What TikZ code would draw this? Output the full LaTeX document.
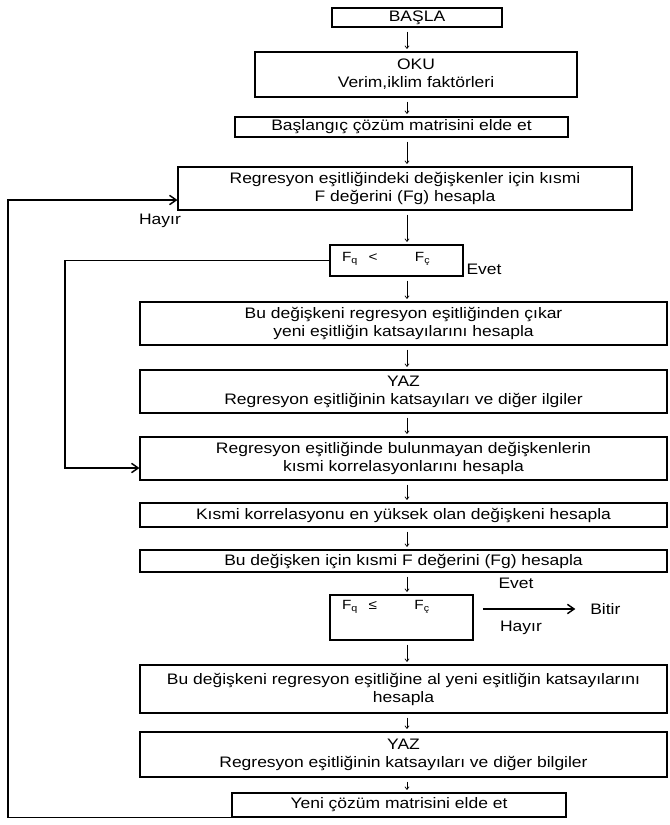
\documentclass[tikz,border=0pt]{standalone}
\usepackage{fontspec}
\newfontfamily\diafont[FakeStretch=1.15]{Liberation Sans}
\usetikzlibrary{arrows.meta}
\tikzset{%
	block/.style    = {draw, rectangle, line width=0.8pt, inner sep=0pt, align=center},
	cond/.style     = {draw, rectangle, line width=0.8pt, inner xsep=9pt, inner ysep=0pt, align=left, font=\diafont\fontsize{10}{12}\selectfont},
	lbl/.style      = {inner sep=0pt},
	arrow/.style    = {line width=0.5pt, -{To[length=2.5pt,width=3.5pt]}, shorten <=3pt, shorten >=2pt},
	backline/.style = {line width=1.1pt, -{Straight Barb[length=5pt,width=7pt]}},
}

\begin{document}
\begin{tikzpicture}[x=0.75pt,y=-0.75pt,font=\diafont\fontsize{11.4}{13.5}\selectfont]
	\useasboundingbox (0,0) rectangle (669,825);
	\coordinate (axis) at (407,0);

	\node [block, minimum width=127.5pt, minimum height=14.25pt] (basla) at (417,17.5) {BAŞLA};
	\node [block, minimum width=241.5pt, minimum height=33.75pt] (oku) at (416,74.5) {OKU\\Verim,iklim faktörleri};
	\node [block, minimum width=249.75pt, minimum height=15pt] (matris) at (401.5,127) {Başlangıç çözüm matrisini elde et};
	\node [block, minimum width=340.5pt, minimum height=32.25pt] (kismif) at (405,188.5) {Regresyon eşitliğindeki değişkenler için kısmi\\F değerini (Fg) hesapla};
	\node [cond, text width=81.75pt, minimum width=99.75pt, text height=12pt, text depth=11.25pt] (test1) at (396.5,260.5) {F\textsubscript{q}\hspace{8pt}<\hspace{28pt}F\textsubscript{ç}};
	\node [block, minimum width=395.25pt, minimum height=32.25pt] (cikar) at (403.5,323.5) {Bu değişkeni regresyon eşitliğinden çıkar\\yeni eşitliğin katsayılarını hesapla};
	\node [block, minimum width=395.25pt, minimum height=32.25pt] (yaz1) at (403.5,391.5) {YAZ\\Regresyon eşitliğinin katsayıları ve diğer ilgiler};
	\node [block, minimum width=395.25pt, minimum height=32.25pt] (korel) at (403.5,458.5) {Regresyon eşitliğinde bulunmayan değişkenlerin\\kısmi korrelasyonlarını hesapla};
	\node [block, minimum width=395.25pt, minimum height=18pt] (yuksek) at (403.5,515) {Kısmi korrelasyonu en yüksek olan değişkeni hesapla};
	\node [block, minimum width=395.25pt, minimum height=16.5pt] (fhesap) at (403.5,561) {Bu değişken için kısmi F değerini (Fg) hesapla};
	\node [cond, text width=89.25pt, minimum width=107.25pt, text height=11pt, text depth=22.75pt] (test2) at (401.5,617.5) {F\textsubscript{q}\hspace{8pt}≤\hspace{28pt}F\textsubscript{ç}};
	\node [block, minimum width=395.25pt, minimum height=36pt] (al) at (403.5,689) {Bu değişkeni regresyon eşitliğine al yeni eşitliğin katsayılarını\\hesapla};
	\node [block, minimum width=395.25pt, minimum height=33.75pt] (yaz2) at (403.5,754.5) {YAZ\\Regresyon eşitliğinin katsayıları ve diğer bilgiler};
	\node [block, minimum width=250.5pt, minimum height=18pt] (yeni) at (399,805) {Yeni çözüm matrisini elde et};

	\node [lbl] (hayir1) at (160,221) {Hayır};
	\node [lbl] (evet1) at (484,269) {Evet};
	\node [lbl] (evet2) at (516,583) {Evet};
	\node [lbl] (hayir2) at (521,628) {Hayır};
	\node [lbl, anchor=west] (bitir) at (590,609) {Bitir};

	\coordinate (hi) at (8,200);
	\coordinate (mid) at (65,468);

	\draw[arrow] (basla.south -| axis) -- (oku.north -| axis);
	\draw[arrow] (oku.south -| axis) -- (matris.north -| axis);
	\draw[arrow] (matris.south -| axis) -- (kismif.north -| axis);
	\draw[arrow] (kismif.south -| axis) -- (test1.north -| axis);
	\draw[arrow] (test1.south -| axis) -- (cikar.north -| axis);
	\draw[arrow] (cikar.south -| axis) -- (yaz1.north -| axis);
	\draw[arrow] (yaz1.south -| axis) -- (korel.north -| axis);
	\draw[arrow] (korel.south -| axis) -- (yuksek.north -| axis);
	\draw[arrow] (yuksek.south -| axis) -- (fhesap.north -| axis);
	\draw[arrow] (fhesap.south -| axis) -- (test2.north -| axis);
	\draw[arrow] (test2.south -| axis) -- (al.north -| axis);
	\draw[arrow] (al.south -| axis) -- (yaz2.north -| axis);
	\draw[arrow] (yaz2.south -| axis) -- (yeni.north -| axis);

	\draw[backline, shorten <=7pt, shorten >=11pt] (test2.east |- bitir.west) -- (bitir.west);
	\draw[backline] (test1.west) -| (mid) -- (mid -| korel.west);
	\draw[backline] (yeni.south west) -| (hi) -- (hi -| kismif.west);
\end{tikzpicture}
\end{document}
